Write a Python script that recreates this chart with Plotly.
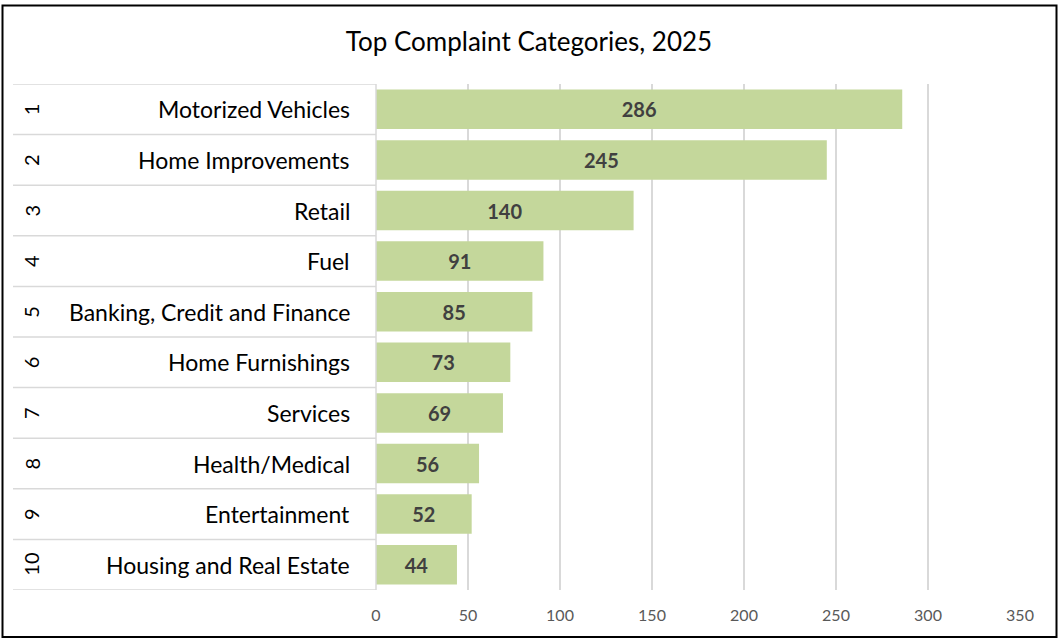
import plotly.graph_objects as go

ranks = ["1", "2", "3", "4", "5", "6", "7", "8", "9", "10"]
categories = ["Motorized Vehicles", "Home Improvements", "Retail", "Fuel",
              "Banking, Credit and Finance", "Home Furnishings", "Services",
              "Health/Medical", "Entertainment", "Housing and Real Estate"]
values = [286, 245, 140, 91, 85, 73, 69, 56, 52, 44]
x_ticks = [0, 50, 100, 150, 200, 250, 300, 350]

W, H = 1058, 641
L, R, T, B = 376, 1020, 84, 590
pw, ph = R - L, B - T

def px_x(p):
    return (p - L) / pw

def px_y(p):
    return (B - p) / ph

FONT = "Lato"

fig = go.Figure()
fig.add_trace(go.Bar(
    y=list(range(len(categories))), x=values, orientation="h",
    marker=dict(color="#c4d79b", line=dict(width=0)),
    text=[str(v) for v in values], textposition="inside",
    insidetextanchor="middle",
    textfont=dict(family=FONT, size=20, color="#404040", weight="bold"),
    hoverinfo="skip",
))

shapes = []
# table horizontal lines at category boundaries
for i in range(len(categories) + 1):
    shapes.append(dict(type="line", xref="paper", yref="y",
                       x0=px_x(13), x1=0, y0=i - 0.5, y1=i - 0.5,
                       line=dict(color="#d9d9d9", width=1.5), layer="below"))
# axis line at left of plot
shapes.append(dict(type="line", xref="paper", yref="paper", x0=0, x1=0,
                   y0=0, y1=1, line=dict(color="#d9d9d9", width=1.5)))
# outer border
shapes.append(dict(type="rect", xref="paper", yref="paper",
                   x0=px_x(2.5), x1=px_x(1056.5), y0=px_y(637), y1=px_y(5.5),
                   line=dict(color="#000000", width=2), fillcolor="rgba(0,0,0,0)"))

annotations = []
for i, (r, c) in enumerate(zip(ranks, categories)):
    annotations.append(dict(xref="paper", yref="y", x=px_x(352), y=i,
                            text=c, showarrow=False, xanchor="right",
                            yanchor="middle",
                            font=dict(family=FONT, size=23, color="#000000")))
    annotations.append(dict(xref="paper", yref="y", x=px_x(31), y=i,
                            text=r, showarrow=False, xanchor="center",
                            yanchor="middle", textangle=-90,
                            font=dict(family=FONT, size=20, color="#000000")))

fig.update_layout(
    width=W, height=H,
    margin=dict(l=L, r=W - R, t=T, b=H - B, pad=0),
    paper_bgcolor="white", plot_bgcolor="white",
    bargap=0.22, showlegend=False,
    title=dict(text="Top Complaint Categories, 2025", x=0.5, xref="container",
               xanchor="center", y=1 - 42 / H, yref="container", yanchor="middle",
               font=dict(family=FONT, size=26, color="#000000")),
    xaxis=dict(range=[0, 350], tickvals=x_ticks, ticktext=[str(t) for t in x_ticks],
               showgrid=True, gridcolor="#d9d9d9", gridwidth=1.5,
               zeroline=False, showline=False, ticks="",
               ticklabelstandoff=14,
               tickfont=dict(family=FONT, size=16, color="#595959"),
               fixedrange=True),
    yaxis=dict(range=[len(categories) - 0.5, -0.5], showticklabels=False,
               showgrid=False, zeroline=False, showline=False, ticks="",
               fixedrange=True),
    shapes=shapes, annotations=annotations,
)

fig.write_html("out.html")
